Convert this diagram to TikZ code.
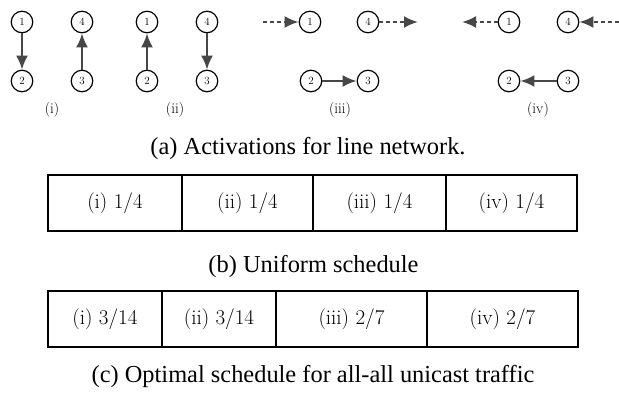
\documentclass[tikz,border=0pt]{standalone}
\usepackage{fontspec}
\newfontfamily\capfont{Liberation Serif}
\usetikzlibrary{arrows.meta}
\begin{document}
\begin{tikzpicture}[x=1pt,y=-1pt,
  vtx/.style={circle,draw,line width=1.2pt,minimum size=21.5pt,inner sep=0pt,font=\fontsize{11}{12}\selectfont},
  act/.style={draw=black!72,line width=2.3pt,-{Latex[length=14pt,width=12pt]}},
  dact/.style={act,dash pattern=on 4pt off 3pt},
  cell/.style={draw,line width=1.1pt,inner sep=0pt,minimum height=56pt},
  captxt/.style={font=\capfont\fontsize{24.4}{28}\selectfont},
  sub/.style={font=\fontsize{15}{17}\selectfont}]
\useasboundingbox (0,0) rectangle (619,394);
% panel (i)
\node[vtx] (a1) at (22,22) {1};
\node[vtx] (a2) at (22,81) {2};
\node[vtx] (a4) at (82,22) {4};
\node[vtx] (a3) at (82,81) {3};
\draw[act] (a1) -- (a2);
\draw[act] (a3) -- (a4);
\node[sub] (la) at (52,110) {(i)};
% panel (ii)
\node[vtx] (b1) at (147,22) {1};
\node[vtx] (b2) at (147,81) {2};
\node[vtx] (b4) at (207,22) {4};
\node[vtx] (b3) at (207,81) {3};
\draw[act] (b2) -- (b1);
\draw[act] (b4) -- (b3);
\node[sub] (lb) at (175,110) {(ii)};
% panel (iii)
\node[vtx] (c1) at (310,22) {1};
\node[vtx] (c4) at (368,22) {4};
\node[vtx] (c2) at (311,81) {2};
\node[vtx] (c3) at (368,81) {3};
\coordinate (cin) at (263,22);
\coordinate (cout) at (418,22);
\draw[dact] (cin) -- (c1);
\draw[dact] (c4) -- (cout);
\draw[act] (c2) -- (c3);
\node[sub] (lc) at (340,110) {(iii)};
% panel (iv)
\node[vtx] (d1) at (509,22) {1};
\node[vtx] (d4) at (568,22) {4};
\node[vtx] (d2) at (509,81) {2};
\node[vtx] (d3) at (568,81) {3};
\coordinate (dout) at (462,22);
\coordinate (din) at (619,22);
\draw[dact] (d1) -- (dout);
\draw[dact] (din) -- (d4);
\draw[act] (d3) -- (d2);
\node[sub] (ld) at (538,110) {(iv)};
% caption (a)
\node[captxt] (capa) at (308,149) {(a) Activations for line network.};
% row 1
\begin{scope}[every node/.append style={font=\fontsize{21}{23}\selectfont}]
\node[cell,minimum width=134pt] (r1) at (115,203) {(i) 1/4};
\node[cell,minimum width=131pt] (r2) at (247.5,203) {(ii) 1/4};
\node[cell,minimum width=133pt] (r3) at (379.5,203) {(iii) 1/4};
\node[cell,minimum width=131pt] (r4) at (511.5,203) {(iv) 1/4};
\end{scope}
\node[captxt] (capb) at (313.5,267) {(b) Uniform schedule};
% row 2
\begin{scope}[every node/.append style={font=\fontsize{21}{23}\selectfont}]
\node[cell,minimum width=114pt] (s1) at (105,319) {(i) 3/14};
\node[cell,minimum width=114pt] (s2) at (219,319) {(ii) 3/14};
\node[cell,minimum width=151pt] (s3) at (351.5,319) {(iii) 2/7};
\node[cell,minimum width=151pt] (s4) at (502.5,319) {(iv) 2/7};
\end{scope}
\node[captxt] (capc) at (313,377) {(c) Optimal schedule for all-all unicast traffic};
\end{tikzpicture}
\end{document}
